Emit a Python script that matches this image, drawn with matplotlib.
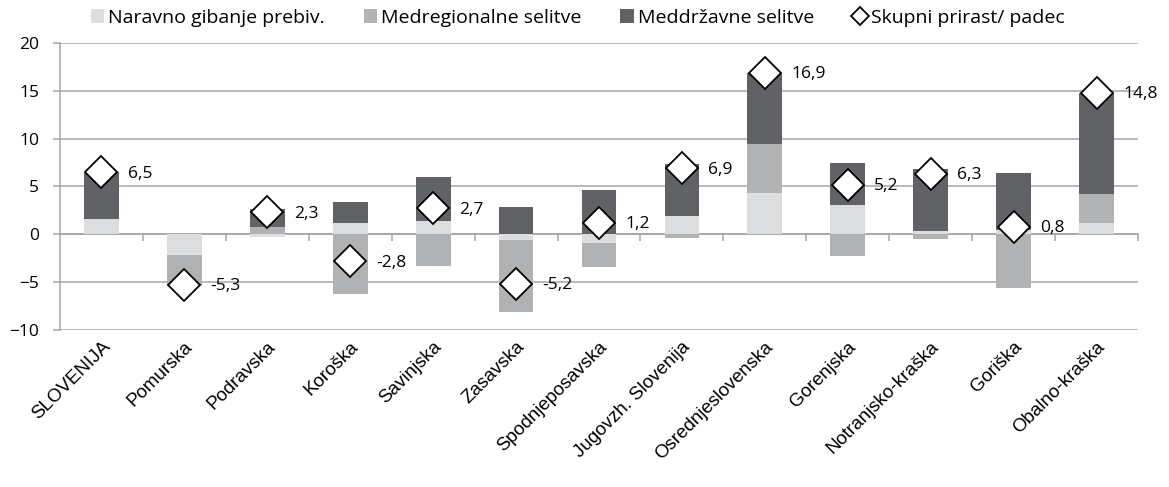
import matplotlib.pyplot as plt
import numpy as np

# Categories (regions)
regije = ['SLOVENIJA', 'Pomurska', 'Podravska', 'Koroška', 'Savinjska', 'Zasavska',
          'Spodnjeposavska', 'Jugovzh. Slovenija', 'Osrednjeslovenska', 'Gorenjska',
          'Notranjsko-kraška', 'Goriška', 'Obalno-kraška']

# Components of population change
naravno = [1.6, -2.2, -0.3, 1.2, 1.4, -0.6, -0.9, 1.9, 4.3, 3.1, 0.4, 0.5, 1.2]
medregionalne = [0.0, -3.0, 0.8, -6.2, -3.3, -7.5, -2.5, -0.4, 5.1, -2.3, -0.5, -5.6, 3.0]
meddrzavne = [4.9, -0.1, 1.8, 2.2, 4.6, 2.9, 4.6, 5.4, 7.5, 4.4, 6.4, 5.9, 10.6]

# Total growth / decline
skupno = [6.5, -5.3, 2.3, -2.8, 2.7, -5.2, 1.2, 6.9, 16.9, 5.2, 6.3, 0.8, 14.8]

serije = [('Naravno gibanje prebiv.', naravno, '#dcdddf'),
          ('Medregionalne selitve', medregionalne, '#b0b2b4'),
          ('Meddržavne selitve', meddrzavne, '#616265')]

plt.rcParams['font.family'] = ['Open Sans', 'DejaVu Sans']

fig = plt.figure(figsize=(11.69, 4.87), dpi=100)
ax = fig.add_axes([0.0513, 0.3224, 0.9222, 0.5893])

x = np.arange(len(regije))
ylo, yhi = -10, 20

# stack positives upward, negatives downward (Excel style)
handles = []
pos_base = np.zeros(len(regije))
neg_base = np.zeros(len(regije))
for name, vals, col in serije:
    v = np.array(vals)
    base = np.where(v >= 0, pos_base, neg_base)
    h = ax.bar(x, v, bottom=base, width=0.42, color=col, label=name, zorder=2)
    handles.append(h)
    pos_base += np.where(v >= 0, v, 0)
    neg_base += np.where(v < 0, v, 0)

pts, = ax.plot(x, skupno, linestyle='none', marker='D', markersize=16,
               markerfacecolor='white', markeredgecolor='black', markeredgewidth=1.3,
               label='Skupni prirast/ padec', zorder=4)
handles.append(pts)

for xi, val in zip(x, skupno):
    ax.annotate(f'{val:.1f}'.replace('.', ','), (xi, val), xytext=(19, -1),
                textcoords='offset points', va='center', ha='left', fontsize=12.5)

ax.set_xlim(-0.5, len(regije) - 0.5)
ax.set_ylim(ylo, yhi)
ax.set_yticks(np.arange(ylo, yhi + 1, 5))
ax.yaxis.grid(True, color='#a6a6a6', linewidth=1.1, zorder=0)
ax.set_axisbelow(True)

for s in ['top', 'right', 'bottom']:
    ax.spines[s].set_visible(False)
ax.spines['left'].set_color('#a6a6a6')
ax.spines['left'].set_linewidth(1.1)
ax.tick_params(axis='y', colors='#a6a6a6', length=5, width=1.1, labelsize=12.5,
               labelcolor='black', pad=10)

ax.set_xticks(x)
ax.set_xticklabels(regije, rotation=45, ha='right', rotation_mode='anchor',
                   fontsize=13.5, family=['Liberation Sans', 'DejaVu Sans'])
ax.tick_params(axis='x', length=0, pad=6)

# zero line with category separators
zero = ax.secondary_xaxis((0 - ylo) / (yhi - ylo))
zero.set_xticks(np.arange(0.5, len(regije) - 0.5 + 1, 1))
zero.tick_params(axis='x', direction='out', length=5, width=1.1, colors='#a6a6a6',
                 labelbottom=False, labeltop=False, bottom=True, top=False)
zero.spines['bottom'].set_color('#a6a6a6')
zero.spines['bottom'].set_linewidth(1.1)

fig.legend(handles=handles, loc='center', bbox_to_anchor=(0.494, 0.963), ncol=4,
           frameon=False, fontsize=14, handlelength=0.7, handleheight=0.7,
           handletextpad=0.2, columnspacing=2.0, markerscale=0.6)

fig.savefig('out.png', dpi=100)
